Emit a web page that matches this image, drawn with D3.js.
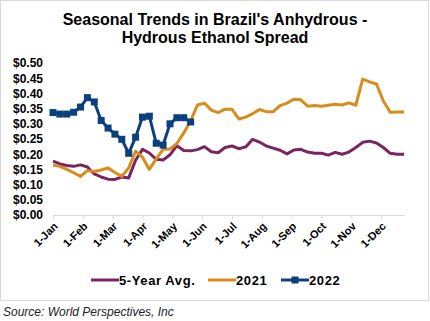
<!DOCTYPE html>
<html>
<head>
<meta charset="utf-8">
<script src="https://cdn.jsdelivr.net/npm/d3@7"></script>
<style>
  body { margin: 0; background: #fff; }
  svg { display: block; font-family: Arial, "Liberation Sans", sans-serif; }
</style>
</head>
<body>
<div id="chart"></div>
<script>
// 1: DATA (weekly values, $/liter)
const months = ["1-Jan", "1-Feb", "1-Mar", "1-Apr", "1-May", "1-Jun",
                "1-Jul", "1-Aug", "1-Sep", "1-Oct", "1-Nov", "1-Dec"];
const yTicks = [0, 0.05, 0.10, 0.15, 0.20, 0.25, 0.30, 0.35, 0.40, 0.45, 0.50];

const avg5 = [0.177, 0.168, 0.163, 0.160, 0.165, 0.158, 0.135, 0.125, 0.118, 0.117,
              0.125, 0.122, 0.180, 0.216, 0.204, 0.183, 0.181, 0.198, 0.228, 0.212,
              0.211, 0.215, 0.225, 0.208, 0.205, 0.222, 0.227, 0.218, 0.224, 0.249,
              0.240, 0.227, 0.220, 0.213, 0.201, 0.214, 0.216, 0.207, 0.203, 0.203,
              0.197, 0.206, 0.200, 0.207, 0.222, 0.239, 0.243, 0.237, 0.222, 0.203,
              0.200, 0.200];

const y2021 = [0.164, 0.160, 0.150, 0.139, 0.127, 0.146, 0.143, 0.148, 0.155, 0.140,
               0.127, 0.155, 0.210, 0.190, 0.150, 0.185, 0.216, 0.217, 0.235, 0.270,
               0.310, 0.362, 0.368, 0.345, 0.337, 0.348, 0.348, 0.316, 0.322, 0.333,
               0.347, 0.340, 0.340, 0.360, 0.368, 0.381, 0.379, 0.358, 0.360, 0.358,
               0.361, 0.364, 0.362, 0.369, 0.361, 0.447, 0.438, 0.431, 0.375, 0.338,
               0.339, 0.339];

const y2022 = [0.337, 0.332, 0.332, 0.338, 0.355, 0.386, 0.372, 0.311, 0.286, 0.266,
               0.249, 0.203, 0.256, 0.322, 0.325, 0.236, 0.230, 0.300, 0.320, 0.320,
               0.306];

const seriesNames = ["5-Year Avg.", "2021", "2022"];
const seriesColors = ["#7a2461", "#d98b1c", "#0b3f7d"];

// 2: SETUP
const W = 430, H = 321;
const svg = d3.select("#chart").append("svg")
    .attr("width", W)
    .attr("height", H);

svg.append("rect")
    .attr("x", 0.5).attr("y", 0.5)
    .attr("width", 428).attr("height", 300)
    .attr("fill", "#fff")
    .attr("stroke", "#d9d9d9");

// 3: SCALES
const xScale = d3.scaleLinear().domain([0, 51]).range([53, 404]);
const yScale = d3.scaleLinear().domain([0, 0.5]).range([215, 63]);
const monthPos = months.map((m, i) => i * 52 / 12);

// 4: TITLE
const title = svg.append("text")
    .attr("text-anchor", "middle")
    .attr("font-size", 16)
    .attr("font-weight", "bold")
    .attr("fill", "#000");
title.append("tspan").attr("x", 215).attr("y", 25).text("Seasonal Trends in Brazil's Anhydrous -");
title.append("tspan").attr("x", 215).attr("y", 43).text("Hydrous Ethanol Spread");

// 5: AXES
const yAxis = d3.axisLeft(yScale)
    .tickValues(yTicks)
    .tickFormat(d => "$" + d3.format(".2f")(d))
    .tickSize(0)
    .tickPadding(0);
const gy = svg.append("g").attr("transform", "translate(43,0)").call(yAxis);
gy.select(".domain").remove();
gy.selectAll("text")
    .attr("font-size", 12)
    .attr("font-weight", "bold")
    .attr("font-family", "Arial, 'Liberation Sans', sans-serif")
    .attr("fill", "#000");

const xAxis = d3.axisBottom(xScale)
    .tickValues(monthPos)
    .tickFormat((d, i) => months[i])
    .tickSize(4)
    .tickSizeOuter(0);
const gx = svg.append("g").attr("transform", "translate(0,215)").call(xAxis);
gx.select(".domain").attr("stroke", "#d9d9d9");
gx.selectAll(".tick line").attr("stroke", "#d9d9d9");
gx.selectAll("text")
    .attr("font-size", 11)
    .attr("font-weight", "bold")
    .attr("font-family", "Arial, 'Liberation Sans', sans-serif")
    .attr("fill", "#000")
    .attr("text-anchor", "end")
    .attr("dy", 0)
    .attr("y", 0)
    .attr("transform", "translate(5,12) rotate(-45)");

// 6: LINES
const line = d3.line()
    .x((d, i) => xScale(i))
    .y(d => yScale(d));

const allSeries = [avg5, y2021, y2022];
svg.selectAll(".series")
    .data(allSeries)
    .enter()
    .append("path")
    .attr("class", "series")
    .attr("fill", "none")
    .attr("stroke", (d, i) => seriesColors[i])
    .attr("stroke-width", 3)
    .attr("stroke-linejoin", "round")
    .attr("d", line);

svg.selectAll(".marker")
    .data(y2022)
    .enter()
    .append("rect")
    .attr("class", "marker")
    .attr("x", (d, i) => xScale(i) - 3.5)
    .attr("y", d => yScale(d) - 3.5)
    .attr("width", 7)
    .attr("height", 7)
    .attr("fill", seriesColors[2]);

// 7: LEGEND
const legendX = [91, 208, 281];
const legend = svg.selectAll(".legend")
    .data(seriesNames)
    .enter()
    .append("g")
    .attr("class", "legend")
    .attr("transform", (d, i) => `translate(${legendX[i]},280)`);

legend.append("line")
    .attr("x1", 0).attr("x2", 28)
    .attr("stroke", (d, i) => seriesColors[i])
    .attr("stroke-width", 3);

legend.filter((d, i) => i === 2).append("rect")
    .attr("x", 10.5).attr("y", -3.5)
    .attr("width", 7).attr("height", 7)
    .attr("fill", seriesColors[2]);

legend.append("text")
    .attr("x", 28)
    .attr("y", 4.5)
    .attr("font-size", 13)
    .attr("letter-spacing", 0.6)
    .attr("font-weight", "bold")
    .attr("fill", "#000")
    .text(d => d);

// 8: SOURCE
svg.append("text")
    .attr("x", 3)
    .attr("y", 316)
    .attr("font-size", 12)
    .attr("font-style", "italic")
    .attr("fill", "#222")
    .text("Source: World Perspectives, Inc");
</script>
</body>
</html>
